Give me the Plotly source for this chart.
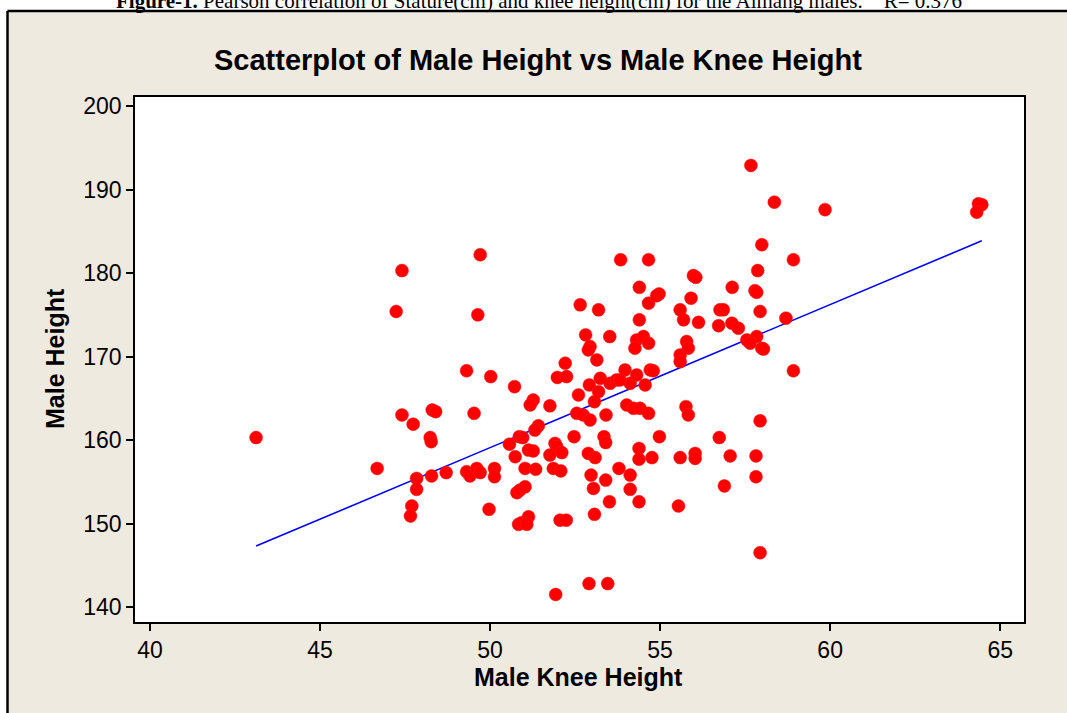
import plotly.graph_objects as go

# ---- data ----
knee_height = [
    43.12, 46.68, 47.24, 47.41, 47.41, 47.74, 48.30, 48.40, 48.24, 48.27,
    47.84, 47.84, 47.70, 47.66, 48.28, 48.71, 49.31, 50.02, 49.71, 49.64,
    49.53, 49.31, 49.41, 49.61, 49.71, 50.13, 50.13, 49.97, 50.72, 50.57,
    50.74, 50.86, 50.96, 50.79, 50.88, 51.03, 50.84, 51.27, 51.18, 51.76,
    52.21, 51.98, 52.25, 52.65, 53.19, 52.81, 52.94, 52.89, 53.14, 53.52,
    52.92, 53.19, 53.07, 52.60, 51.42, 51.32, 51.13, 51.27, 51.03, 51.34,
    51.91, 51.96, 52.11, 51.76, 51.86, 52.08, 52.47, 52.55, 52.74, 52.94,
    53.41, 53.35, 53.40, 52.89, 53.09, 54.98, 54.38, 54.38, 54.76, 53.79,
    54.12, 54.12, 52.97, 53.04, 53.40, 53.51, 54.38, 55.54, 55.59, 50.93,
    51.13, 51.08, 52.06, 52.24, 53.07, 52.91, 53.46, 51.93, 53.24, 53.53,
    53.72, 53.97, 54.12, 54.31, 54.56, 54.71, 54.80, 53.82, 54.02, 54.22,
    54.41, 54.66, 54.39, 54.31, 54.51, 54.66, 54.26, 54.66, 55.59, 55.69,
    55.59, 55.59, 55.78, 55.83, 55.76, 55.83, 57.67, 58.36, 59.85, 57.99,
    58.92, 53.84, 54.66, 55.98, 56.05, 57.87, 54.39, 54.97, 54.90, 55.91,
    57.12, 57.79, 57.84, 57.94, 58.70, 56.13, 56.76, 56.86, 56.72, 57.11,
    57.30, 57.55, 57.84, 57.99, 57.65, 58.92, 57.94, 56.74, 56.03, 56.03,
    57.06, 57.82, 57.82, 56.89, 57.94, 64.36, 64.46, 64.31, 58.04,
]
male_height = [
    160.3, 156.6, 175.4, 180.3, 163.0, 161.9, 163.6, 163.4, 160.3, 159.8,
    155.4, 154.1, 152.1, 150.9, 155.7, 156.1, 168.3, 167.6, 182.2, 175.0,
    163.2, 156.2, 155.7, 156.6, 156.1, 156.6, 155.6, 151.7, 166.4, 159.5,
    158.0, 160.4, 160.3, 153.7, 154.0, 154.4, 149.9, 164.8, 164.2, 164.1,
    169.2, 167.5, 167.6, 176.2, 175.6, 172.6, 171.2, 170.8, 169.6, 172.4,
    166.6, 165.8, 164.6, 165.4, 161.7, 161.2, 158.8, 158.7, 156.6, 156.5,
    159.6, 159.2, 158.5, 158.2, 156.6, 156.3, 160.4, 163.2, 163.0, 162.4,
    163.0, 160.4, 159.7, 158.4, 157.9, 160.4, 159.0, 157.7, 157.9, 156.6,
    155.8, 154.1, 155.8, 154.2, 155.2, 152.6, 152.6, 152.1, 157.9, 150.1,
    150.8, 149.9, 150.4, 150.4, 151.1, 142.8, 142.8, 141.5, 167.4, 166.8,
    167.2, 168.4, 166.8, 167.8, 166.6, 168.4, 168.3, 167.2, 164.2, 163.8,
    163.8, 163.2, 174.4, 172.0, 172.4, 171.6, 171.0, 176.4, 175.6, 174.4,
    170.2, 169.4, 171.8, 171.0, 164.0, 163.0, 192.9, 188.5, 187.6, 183.4,
    181.6, 181.6, 181.6, 179.7, 179.5, 180.3, 178.3, 177.5, 177.3, 177.0,
    178.3, 177.9, 177.7, 175.4, 174.6, 174.1, 175.6, 175.6, 173.7, 174.0,
    173.4, 172.0, 172.4, 171.0, 171.6, 168.3, 162.3, 160.3, 158.4, 157.8,
    158.1, 158.1, 155.6, 154.5, 146.5, 188.3, 188.2, 187.3, 170.9,
]

# fitted line (intercept, slope)
fit_intercept = 73.39
fit_slope = 1.714

x_ticks = [40, 45, 50, 55, 60, 65]
y_ticks = [140, 150, 160, 170, 180, 190, 200]

chart_title = "Scatterplot of Male Height vs Male Knee Height"
x_title = "Male Knee Height"
y_title = "Male Height"
caption = ("<b>Figure-1.</b> Pearson correlation of Stature(cm) and knee height(cm) "
           "for the Aimang males.&nbsp;&nbsp;&nbsp; R= 0.376")

# ---- layout helpers (pixel -> paper) ----
W, H = 1067, 713
ML, MR, MT, MB = 135, 43, 97, 91
PW, PH = W - ML - MR, H - MT - MB


def px(xp):
    return (xp - ML) / PW


def py(yp):
    return (H - MB - yp) / PH


SANS = "Liberation Sans, Arial, sans-serif"
BEIGE = "#EEEAE0"

fig = go.Figure()

fit_x = [min(knee_height), max(knee_height)]
fit_y = [fit_intercept + fit_slope * v for v in fit_x]
fig.add_trace(go.Scatter(x=fit_x, y=fit_y, mode="lines",
                         line=dict(color="#0000FF", width=1.6),
                         hoverinfo="skip", showlegend=False))

fig.add_trace(go.Scatter(x=knee_height, y=male_height, mode="markers",
                         marker=dict(color="#FF0000", size=13,
                                     line=dict(color="#F22020", width=0.5)),
                         showlegend=False))

axis_common = dict(showgrid=False, zeroline=False, showline=True, linecolor="black",
                   linewidth=1.5, mirror=True, ticks="outside", ticklen=7,
                   tickwidth=1.5, tickcolor="black",
                   tickfont=dict(family=SANS, size=23, color="black"))

fig.update_xaxes(range=[39.56, 65.7], tickvals=x_ticks, **axis_common)
fig.update_yaxes(range=[138.2, 201.1], tickvals=y_ticks, **axis_common)

shapes = [
    # white strip at top and left (outside the frame)
    dict(type="rect", xref="paper", yref="paper", x0=px(-5), x1=px(W + 5),
         y0=py(11), y1=py(-5), fillcolor="white", line=dict(width=0), layer="below"),
    dict(type="rect", xref="paper", yref="paper", x0=px(-5), x1=px(7),
         y0=py(H + 5), y1=py(-5), fillcolor="white", line=dict(width=0), layer="below"),
    # black frame lines
    dict(type="line", xref="paper", yref="paper", x0=px(7.5), x1=px(W + 5),
         y0=py(11), y1=py(11), line=dict(color="black", width=2.5)),
    dict(type="line", xref="paper", yref="paper", x0=px(7.5), x1=px(7.5),
         y0=py(11), y1=py(H + 5), line=dict(color="black", width=2.5)),
]

annotations = [
    dict(text=f"<b>{chart_title}</b>", x=px(538), y=py(60), xref="paper", yref="paper",
         showarrow=False, xanchor="center", yanchor="middle",
         font=dict(family=SANS, size=29, color="black")),
    dict(text=f"<b>{x_title}</b>", x=px(578), y=py(677), xref="paper", yref="paper",
         showarrow=False, xanchor="center", yanchor="middle",
         font=dict(family=SANS, size=25, color="black")),
    dict(text=f"<b>{y_title}</b>", x=px(55), y=py(359), xref="paper", yref="paper",
         showarrow=False, xanchor="center", yanchor="middle", textangle=-90,
         font=dict(family=SANS, size=25, color="black")),
    dict(text=caption, x=px(539), y=py(1), xref="paper", yref="paper",
         showarrow=False, xanchor="center", yanchor="middle",
         font=dict(family="Liberation Serif, Times New Roman, serif", size=21, color="black")),
]

fig.update_layout(width=W, height=H, margin=dict(l=ML, r=MR, t=MT, b=MB),
                  paper_bgcolor=BEIGE, plot_bgcolor="white",
                  shapes=shapes, annotations=annotations, showlegend=False)

fig.write_html("out.html", config={"displayModeBar": False},
               post_script="document.body.style.margin='0';"
                           "document.body.style.overflow='hidden';")
